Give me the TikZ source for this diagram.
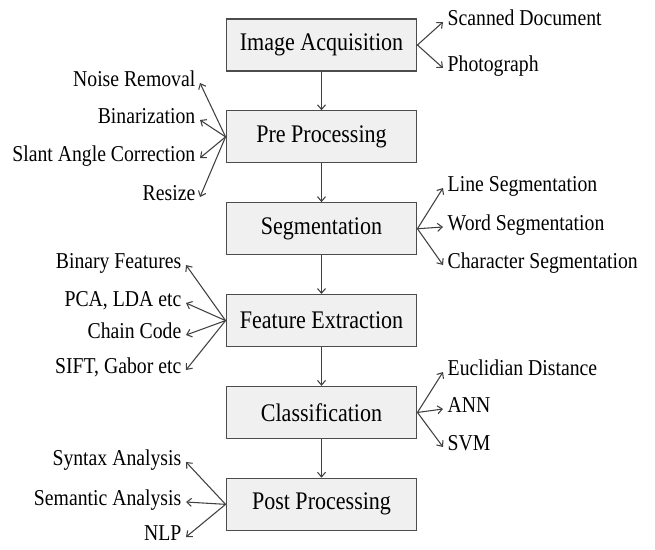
\documentclass[tikz,border=0pt]{standalone}
\usepackage{fontspec}
\setmainfont[FakeStretch=0.87]{Liberation Serif}
\usetikzlibrary{positioning, arrows.meta}

\begin{document}
\begin{tikzpicture}[x=0.75pt, y=-0.75pt, node distance=29pt,
    stage/.style={draw=black!70, line width=0.9pt, fill=black!6,
      minimum width=143pt, minimum height=39pt,
      font=\fontsize{19}{22}\selectfont},
    item/.style={font=\fontsize{17}{20}\selectfont,
      text height=0.7em, text depth=0.2em},
    flow/.style={-{Straight Barb[length=3.5pt, width=6pt]}, black!75, line width=0.8pt}]
  \useasboundingbox (0,0) rectangle (655,549);
  % main stages
  \node[stage] (acq) at (321.5,45) {Image Acquisition};
  \node[stage, below=of acq] (pre) {Pre Processing};
  \node[stage, below=of pre] (seg) {Segmentation};
  \node[stage, below=of seg] (feat) {Feature Extraction};
  \node[stage, below=of feat] (cls) {Classification};
  \node[stage, below=of cls] (post) {Post Processing};
  \foreach \a/\b in {acq/pre, pre/seg, seg/feat, feat/cls, cls/post}
    \draw[flow] (\a) -- (\b);

  % right hand options
  \node[item, anchor=west] (scan) at (443,22) {Scanned Document};
  \node[item, anchor=west] (photo) at (443,68) {Photograph};
  \node[item, anchor=west] (line) at (443,188) {Line Segmentation};
  \node[item, anchor=west] (word) at (443,227) {Word Segmentation};
  \node[item, anchor=west] (char) at (443,265) {Character Segmentation};
  \node[item, anchor=west] (eucl) at (443,372) {Euclidian Distance};
  \node[item, anchor=west] (ann) at (443,409) {ANN};
  \node[item, anchor=west] (svm) at (443,447) {SVM};
  \foreach \b in {scan, photo} \draw[flow] (acq.east) -- (\b.west);
  \foreach \b in {line, word, char} \draw[flow] (seg.east) -- (\b.west);
  \foreach \b in {eucl, ann, svm} \draw[flow] (cls.east) -- (\b.west);

  % left hand options
  \node[item, anchor=east] (noise) at (200,83) {Noise Removal};
  \node[item, anchor=east] (bin) at (200,120) {Binarization};
  \node[item, anchor=east] (slant) at (200,158) {Slant Angle Correction};
  \node[item, anchor=east] (resize) at (200,197) {Resize};
  \node[item, anchor=east] (binf) at (186,265) {Binary Features};
  \node[item, anchor=east] (pca) at (186,303) {PCA, LDA etc};
  \node[item, anchor=east] (chain) at (186,335) {Chain Code};
  \node[item, anchor=east] (sift) at (186,370) {SIFT, Gabor etc};
  \node[item, anchor=east] (syn) at (186,462) {Syntax Analysis};
  \node[item, anchor=east] (sem) at (186,502) {Semantic Analysis};
  \node[item, anchor=east] (nlp) at (186,537) {NLP};
  \foreach \b in {noise, bin, slant, resize} \draw[flow] (pre.west) -- (\b.east);
  \foreach \b in {binf, pca, chain, sift} \draw[flow] (feat.west) -- (\b.east);
  \foreach \b in {syn, sem, nlp} \draw[flow] (post.west) -- (\b.east);
\end{tikzpicture}
\end{document}
